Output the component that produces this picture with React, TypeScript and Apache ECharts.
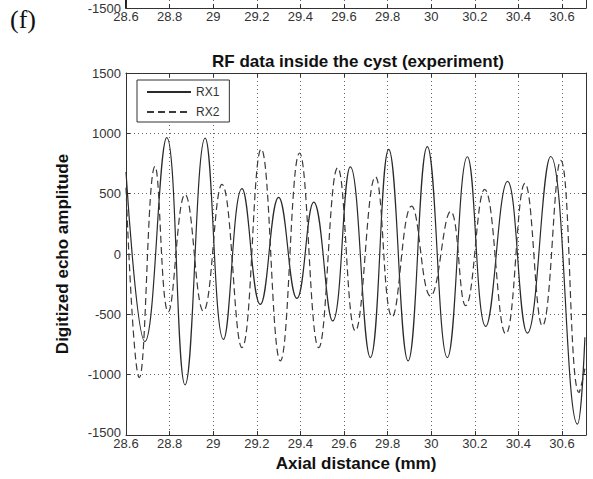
import React, { useEffect, useRef } from 'react';
import * as echarts from 'echarts';

// ---- Data ----
const rx1X = [28.6, 28.687, 28.787, 28.871, 28.963, 29.047, 29.132, 29.216, 29.3, 29.384, 29.461, 29.548, 29.629, 29.721, 29.805, 29.894, 29.982, 30.074, 30.166, 30.25, 30.35, 30.441, 30.548, 30.671, 30.705];
const rx1Y = [680, -725, 965, -1085, 960, -707, 541, -417, 470, -368, 430, -555, 722, -858, 867, -886, 890, -858, 806, -600, 602, -655, 808, -1410, -690];
const rx2X = [28.6, 28.661, 28.733, 28.794, 28.871, 28.955, 29.04, 29.132, 29.22, 29.308, 29.396, 29.484, 29.571, 29.652, 29.744, 29.821, 29.91, 29.997, 30.089, 30.158, 30.245, 30.342, 30.43, 30.51, 30.594, 30.678, 30.705];
const rx2Y = [550, -1024, 725, -480, 494, -472, 577, -776, 870, -886, 837, -776, 715, -637, 640, -520, 397, -348, 353, -428, 536, -662, 585, -596, 776, -1148, -950];

const seriesNames = ['RX1', 'RX2'];
const xMin = 28.6;
const xMax = 30.71;
const xStep = 0.2;
const yMin = -1500;
const yMax = 1500;
const yStep = 500;
// visible strip of the previous panel (its lowest part only)
const prevYMax = -1434;
const titleText = 'RF data inside the cyst (experiment)';
const xName = 'Axial distance (mm)';
const yName = 'Digitized echo amplitude';
const panelLabel = '(f)';

const SANS = '"Liberation Sans", Arial, Helvetica, sans-serif';
const AX = '#333';
const GRIDC = '#666';

export default function App() {
  const ref = useRef<HTMLDivElement>(null);
  useEffect(() => {
    if (!ref.current) return;
    const chart = echarts.init(ref.current, undefined, { renderer: 'svg' });
    const xLabel = {
      show: true,
      margin: 2,
      color: AX,
      fontSize: 13,
      fontFamily: SANS,
      showMaxLabel: false,
      formatter: (v: number) => String(Math.round(v * 10) / 10),
    };
    const yLabel = {
      show: true,
      margin: 5,
      color: AX,
      fontSize: 13,
      fontFamily: SANS,
      showMinLabel: true,
      showMaxLabel: true,
      formatter: (v: number) => (v === yMin ? `{low|${v}}` : String(v)),
      rich: { low: { fontSize: 13, color: AX, fontFamily: SANS, padding: [0, 0, 5, 0] } },
    };
    const yLabelTop = {
      show: true,
      margin: 5,
      color: AX,
      fontSize: 13,
      fontFamily: SANS,
      showMinLabel: true,
      showMaxLabel: false,
      formatter: (v: number) => String(v),
    };
    const tick = { show: true, inside: true, length: 4, lineStyle: { color: AX } };
    const line = { show: true, onZero: false, lineStyle: { color: AX, width: 1 } };
    const dotted = { show: true, lineStyle: { color: GRIDC, type: [1, 3] as any, width: 1 } };
    const xBase = { type: 'value' as const, min: xMin, max: xMax, interval: xStep };
    const yBase = { type: 'value' as const, min: yMin, max: yMax, interval: yStep };
    const yPrev = { type: 'value' as const, min: yMin, max: prevYMax, interval: yStep };
    const bold = { fontSize: 17, fontWeight: 'bold' as const, color: '#111', fontFamily: SANS };

    chart.setOption({
      animation: false,
      backgroundColor: '#fff',
      grid: [
        { left: 126, right: 7, top: 0, height: 8 },
        { left: 126, right: 7, top: 73, bottom: 44 },
      ],
      xAxis: [
        { ...xBase, gridIndex: 0, position: 'bottom', axisLabel: xLabel, axisTick: tick, axisLine: line, splitLine: dotted },
        { ...xBase, gridIndex: 1, position: 'bottom', axisLabel: xLabel, axisTick: tick, axisLine: line, splitLine: dotted,
          name: xName, nameLocation: 'middle', nameGap: 19, nameTextStyle: bold },
        { ...xBase, gridIndex: 1, position: 'top', axisLabel: { show: false }, axisTick: tick, axisLine: line, splitLine: { show: false } },
      ],
      yAxis: [
        { ...yPrev, gridIndex: 0, position: 'left', axisLabel: yLabelTop, axisTick: { show: false }, axisLine: { ...line, lineStyle: { color: '#222', width: 2 } }, splitLine: { show: false } },
        { ...yPrev, gridIndex: 0, position: 'right', axisLabel: { show: false }, axisTick: { show: false }, axisLine: line, splitLine: { show: false } },
        { ...yBase, gridIndex: 1, position: 'left', axisLabel: yLabel, axisTick: tick, axisLine: line, splitLine: dotted,
          name: yName, nameLocation: 'middle', nameGap: 55, nameTextStyle: bold },
        { ...yBase, gridIndex: 1, position: 'right', axisLabel: { show: false }, axisTick: tick, axisLine: line, splitLine: { show: false } },
      ],
      legend: {
        orient: 'vertical',
        left: 137,
        top: 80,
        padding: [6, 10, 4, 9],
        itemGap: 8,
        itemWidth: 44,
        itemHeight: 14,
        backgroundColor: '#fff',
        borderColor: AX,
        borderWidth: 1,
        borderRadius: 0,
        itemStyle: { opacity: 0 },
        textStyle: { fontSize: 12, color: AX, fontFamily: SANS },
        data: seriesNames,
      },
      graphic: [
        { type: 'text', left: 10, top: 6, style: { text: panelLabel, font: '26px "Liberation Serif", "Times New Roman", serif', fill: '#111' } },
        { type: 'text', x: 358, y: 61, style: { text: titleText, font: 'bold 17px ' + SANS, fill: '#111', align: 'center', verticalAlign: 'middle' } },
      ],
      series: [
        {
          name: seriesNames[0],
          type: 'line',
          xAxisIndex: 1,
          yAxisIndex: 2,
          symbol: 'none',
          smooth: 0.45,
          lineStyle: { color: '#2a2a2a', width: 1.2, type: 'solid' },
          itemStyle: { color: '#2a2a2a' },
          data: rx1X.map((x, i) => [x, rx1Y[i]]),
        },
        {
          name: seriesNames[1],
          type: 'line',
          xAxisIndex: 1,
          yAxisIndex: 2,
          symbol: 'none',
          smooth: 0.45,
          lineStyle: { color: '#3a3a3a', width: 1.2, type: [7, 4] },
          itemStyle: { color: '#3a3a3a' },
          data: rx2X.map((x, i) => [x, rx2Y[i]]),
        },
      ],
    });
    return () => chart.dispose();
  }, []);
  return (
    <div
      ref={ref}
      style={{ position: 'absolute', left: 0, top: 0, width: 593, height: 479, overflow: 'hidden', background: '#fff' }}
    />
  );
}
